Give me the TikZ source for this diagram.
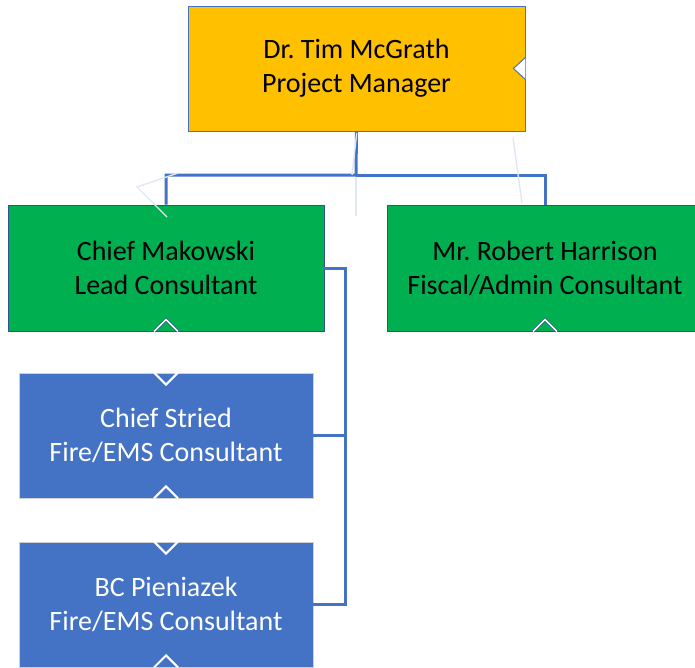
\documentclass[tikz,border=0pt]{standalone}
\usepackage{fontspec}
\setmainfont{Carlito}
\usepackage{xcolor}
\usepackage{tikz}
\definecolor{gold}{HTML}{FFC000}
\definecolor{leadgreen}{HTML}{00B050}
\definecolor{orgblue}{HTML}{4472C4}
\definecolor{greenedge}{HTML}{2F528F}
\definecolor{boxgray}{HTML}{D0D0D0}
\definecolor{faintblue}{HTML}{E0E6F2}
\frenchspacing

\begin{document}
\begin{tikzpicture}[x=1pt,y=-1pt,
	box/.style={align=center,inner sep=0pt,font=\fontsize{28}{34}\selectfont},
	link/.style={orgblue,line width=3pt},
	faint/.style={faintblue,line width=1.4pt}]
			\useasboundingbox (0,0) rectangle (695,667);
			\clip (0,0) rectangle (695,667);
			% Hộp
			\node[box,fill=gold,draw=orgblue,line width=0.8pt,minimum width=337pt,minimum height=125pt] (pm) at (356.5,68.5) {Dr. Tim McGrath\\Project Manager};
			\node[box,fill=leadgreen,draw=greenedge,line width=0.8pt,minimum width=316pt,minimum height=126pt] (lead) at (166,268) {Chief Makowski\\Lead Consultant};
			\node[box,fill=leadgreen,draw=greenedge,line width=0.8pt,minimum width=316pt,minimum height=126pt] (fiscal) at (545,268) {Mr. Robert Harrison\\Fiscal/Admin Consultant};
			\node[box,fill=orgblue,draw=boxgray,line width=0.8pt,text=white,minimum width=294pt,minimum height=125pt] (stried) at (166,435.5) {Chief Stried\\Fire/EMS Consultant};
			\node[box,fill=orgblue,draw=boxgray,line width=0.8pt,text=white,minimum width=294pt,minimum height=125pt] (pien) at (166,604.5) {BC Pieniazek\\Fire/EMS Consultant};
			% Đường nối
			\coordinate (bus) at (356,175);
			\coordinate (side) at (345,268);
			\draw[link] (pm.south) -- (bus) -| (lead.north);
			\draw[link] (bus) -| (fiscal.north);
			\draw[link] (lead.east) -- (side) |- (pien.east);
			\draw[link] (side |- stried.east) -- (stried.east);
			% Dấu
			\filldraw[fill=white,draw=orgblue,line width=1pt] ([yshift=11pt]pm.east) -- ([xshift=-12pt]pm.east) -- ([yshift=-11pt]pm.east);
			\foreach \n in {lead,fiscal}
			\draw[greenedge,line width=3pt] ([xshift=-12pt]\n.south) -- ([yshift=12pt]\n.south) -- ([xshift=12pt]\n.south);
			\foreach \n in {lead,fiscal}
			\draw[white,line width=1.6pt] ([xshift=-12pt]\n.south) -- ([yshift=12pt]\n.south) -- ([xshift=12pt]\n.south);
			\foreach \n in {stried,pien}
			\draw[white,line width=2pt] ([xshift=-12pt]\n.north) -- ([yshift=-12pt]\n.north) -- ([xshift=12pt]\n.north);
			\foreach \n in {stried,pien}
			\draw[white,line width=2pt] ([xshift=-12pt]\n.south) -- ([yshift=12pt]\n.south) -- ([xshift=12pt]\n.south);
			% Nét mờ
			\draw[faint] (178,173) -- (137,187) -- (167,217);
			\draw[faint] (356.7,133) -- (352,175);
			\draw[faint] (356,177) -- (356,216);
			\draw[faint] (513,138) -- (522,203);
\end{tikzpicture}
\end{document}
